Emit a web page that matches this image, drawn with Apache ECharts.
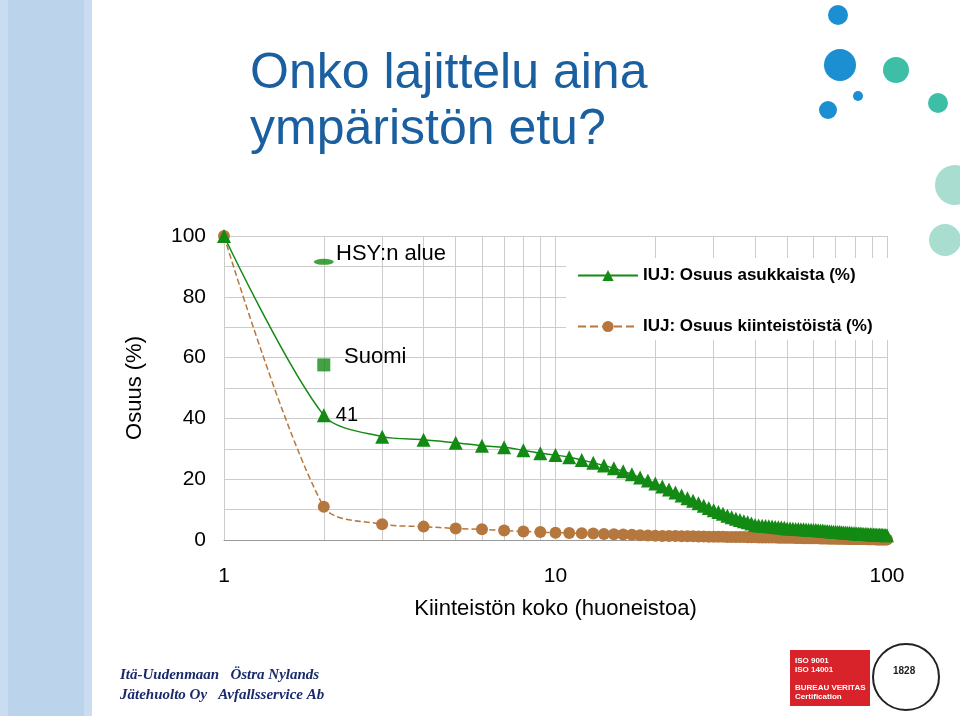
<!DOCTYPE html>
<html><head><meta charset="utf-8">
<script src="https://cdn.jsdelivr.net/npm/echarts@6/dist/echarts.min.js"></script>
<style>html,body{margin:0;padding:0;background:#fff}#c{width:960px;height:716px}</style>
</head><body><div id="c"></div>
<script>
const sizes = Array.from({length:100},(_,i)=>i+1);
const residents = [100,41,34,33,32,31,30.5,29.5,28.5,28,
27.2,26.3,25.4,24.5,23.6,22.6,21.6,20.6,19.6,18.6,
17.6,16.6,15.6,14.6,13.7,12.9,12.1,11.3,10.5,9.8,
9.2,8.6,8,7.5,7,6.6,6.2,5.8,5.4,4.9,
4.8,4.7,4.6,4.5,4.4,4.3,4.2,4.1,4,3.8,
3.75,3.7,3.65,3.6,3.55,3.5,3.45,3.4,3.35,3.3,
3.25,3.2,3.15,3.1,3,2.95,2.9,2.8,2.75,2.7,
2.65,2.6,2.55,2.5,2.45,2.4,2.35,2.3,2.25,2.2,
2.15,2.1,2.1,2.05,2,2,1.95,1.9,1.9,1.85,
1.8,1.8,1.75,1.75,1.7,1.7,1.65,1.65,1.6,1.6];
const properties = [100,10.9,5.2,4.4,3.8,3.5,3.1,2.8,2.6,2.4,
2.3,2.2,2.1,2,1.9,1.8,1.7,1.6,1.5,1.4,
1.35,1.3,1.3,1.25,1.2,1.2,1.15,1.15,1.1,1.1,
1.05,1.05,1,1,1,0.95,0.95,0.9,0.9,0.9,
0.85,0.85,0.85,0.8,0.8,0.8,0.75,0.75,0.75,0.7,
0.7,0.7,0.65,0.65,0.65,0.6,0.6,0.6,0.6,0.55,
0.55,0.55,0.5,0.5,0.5,0.5,0.45,0.45,0.45,0.45,
0.4,0.4,0.4,0.4,0.4,0.35,0.35,0.35,0.35,0.35,
0.3,0.3,0.3,0.3,0.3,0.3,0.25,0.25,0.25,0.25,
0.25,0.25,0.2,0.2,0.2,0.2,0.2,0.2,0.2,0.2];
const minorX = [2,3,4,5,6,7,8,9,20,30,40,50,60,70,80,90];
const hsy = [[2,91.5]];
const suomi = [[2,57.6]];

const green='#138a13', brown='#b5773d';
const chart = echarts.init(document.getElementById('c'));
const circles = [[838,15,10,'#1b8fd2'],[840,65,16,'#1b8fd2'],[896,70,13,'#3cbfa6'],[828,110,9,'#1b8fd2'],[858,96,5,'#1b8fd2'],[938,103,10,'#3cbfa6'],[955,185,20,'#a8ddd0'],[945,240,16,'#a8ddd0']];
chart.setOption({
  animation:false,
  textStyle:{fontFamily:'Liberation Sans, Arial'},
  graphic:[
    {type:'rect',shape:{x:0,y:0,width:92,height:716},style:{fill:'#c9dcf0'}},
    {type:'rect',shape:{x:8,y:0,width:76,height:716},style:{fill:'#bcd3ec'}},
    ...circles.map(c=>({type:'circle',shape:{cx:c[0],cy:c[1],r:c[2]},style:{fill:c[3]}})),
    {type:'text',left:250,top:46,style:{text:'Onko lajittelu aina\nympäristön etu?',fill:'#1a5fa0',font:'50px Liberation Sans',lineHeight:56}},
    {type:'text',left:120,top:665,style:{text:'Itä-Uudenmaan   Östra Nylands\nJätehuolto Oy   Avfallsservice Ab',fill:'#1a2a6a',font:'italic bold 15px Liberation Serif',lineHeight:20}},
    {type:'rect',shape:{x:790,y:650,width:80,height:56},style:{fill:'#d8232a'}},
    {type:'text',left:795,top:656,style:{text:'ISO 9001\nISO 14001\n\nBUREAU VERITAS\nCertification',fill:'#fff',font:'bold 8px Liberation Sans',lineHeight:9}},
    {type:'circle',shape:{cx:906,cy:677,r:33},style:{fill:'#fff',stroke:'#222',lineWidth:2}},
    {type:'text',left:893,top:666,style:{text:'1828',fill:'#222',font:'bold 10px Liberation Sans'}},
    {type:'rect',z:1,shape:{x:566,y:258,width:330,height:82},style:{fill:'#fff'}},
    {type:'text',z:5,left:336,top:243,style:{text:'HSY:n alue',fill:'#000',font:'22px Liberation Sans'}},
    {type:'text',z:5,left:344,top:346,style:{text:'Suomi',fill:'#000',font:'22px Liberation Sans'}}
  ],
  grid:{left:224,right:73,top:236,bottom:176},
  xAxis:{type:'log',logBase:10,min:1,max:100,
    axisLine:{show:true,lineStyle:{color:'#999'}},axisTick:{show:false},
    axisLabel:{fontSize:21,color:'#000',margin:26},
    splitLine:{show:true,lineStyle:{color:'#ccc'}},
    name:'Kiinteistön koko (huoneistoa)',nameLocation:'middle',nameGap:58,nameTextStyle:{fontSize:22,color:'#000'}},
  yAxis:{type:'value',min:0,max:100,interval:10,
    axisLine:{show:false},axisTick:{show:false},
    axisLabel:{fontSize:21,color:'#000',margin:18,formatter:v=>v%20===0?v:''},
    splitLine:{lineStyle:{color:'#ccc'}},
    name:'Osuus (%)',nameLocation:'middle',nameGap:78,nameRotate:90,nameTextStyle:{fontSize:22,color:'#000'}},
  legend:{orient:'vertical',left:572,top:262,itemGap:34,itemWidth:60,itemHeight:14,z:6,
    data:['IUJ: Osuus asukkaista (%)','IUJ: Osuus kiinteistöistä (%)'],
    textStyle:{fontSize:17,fontWeight:'bold',color:'#000'}},
  series:[
    {type:'line',data:[],z:0,silent:true,
      markLine:{silent:true,symbol:'none',z:0,label:{show:false},lineStyle:{color:'#ccc',type:'solid',width:1},data:minorX.map(v=>({xAxis:v}))}},
    {name:'IUJ: Osuus asukkaista (%)',type:'line',smooth:0.3,data:sizes.map((s,i)=>[s,residents[i]]),
      symbol:'triangle',symbolSize:14,itemStyle:{color:green},lineStyle:{color:green,width:1.5},z:3,
      label:{show:true,position:'right',fontSize:20,color:'#000',formatter:p=>p.dataIndex===1?'41':''}},
    {name:'IUJ: Osuus kiinteistöistä (%)',type:'line',smooth:0.3,data:sizes.map((s,i)=>[s,properties[i]]),
      symbol:'circle',symbolSize:12,itemStyle:{color:brown},lineStyle:{color:brown,width:1.5,type:'dashed'},z:2},
    {type:'scatter',data:hsy,symbol:'circle',symbolSize:[20,6],itemStyle:{color:green},z:4},
    {type:'scatter',data:suomi,symbol:'rect',symbolSize:13,itemStyle:{color:green},z:4}
  ]
});
</script></body></html>
